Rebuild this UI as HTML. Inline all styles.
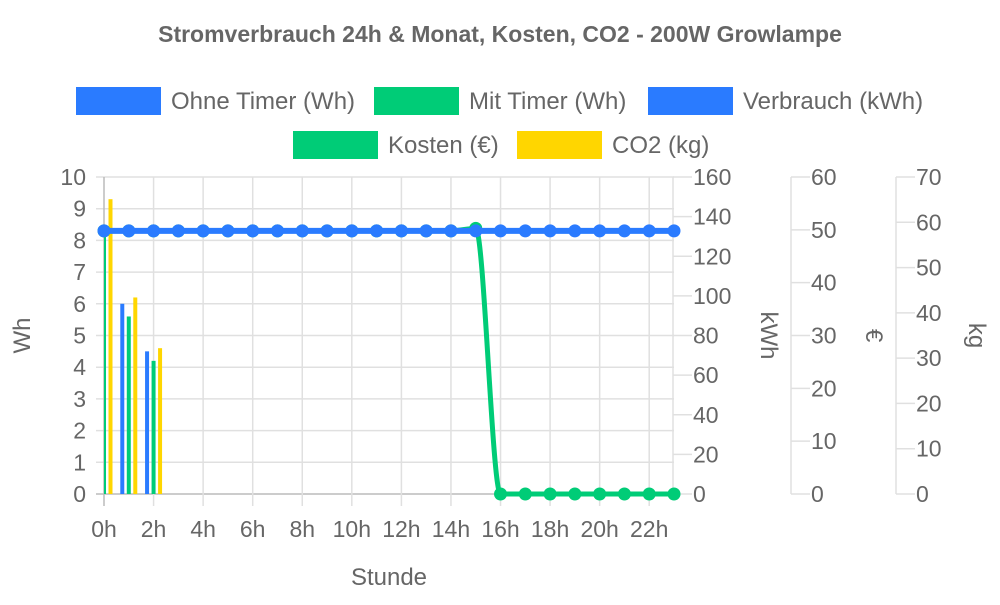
<!DOCTYPE html>
<html><head><meta charset="utf-8"><style>
body{margin:0;background:#fff;font-family:"Liberation Sans",sans-serif}
svg text{font-family:"Liberation Sans",sans-serif;fill:#666}
</style></head><body>
<svg id="c" width="1000" height="600" viewBox="0 0 1000 600"></svg>
<script>
const hours=["0h","1h","2h","3h","4h","5h","6h","7h","8h","9h","10h","11h","12h","13h","14h","15h","16h","17h","18h","19h","20h","21h","22h","23h"];
const ohneTimer=[8.3,8.3,8.3,8.3,8.3,8.3,8.3,8.3,8.3,8.3,8.3,8.3,8.3,8.3,8.3,8.3,8.3,8.3,8.3,8.3,8.3,8.3,8.3,8.3];
const mitTimer=[8.3,8.3,8.3,8.3,8.3,8.3,8.3,8.3,8.3,8.3,8.3,8.3,8.3,8.3,8.3,8.38,0,0,0,0,0,0,0,0];
const barBlue=[8.3,6.0,4.5];
const barGreen=[8.3,5.6,4.2];
const barYellow=[9.3,6.2,4.6];
const whTicks=[0,1,2,3,4,5,6,7,8,9,10];
const kwhTicks=[0,20,40,60,80,100,120,140,160];
const euroTicks=[0,10,20,30,40,50,60];
const kgTicks=[0,10,20,30,40,50,60,70];

const svg=document.getElementById('c');const NS="http://www.w3.org/2000/svg";
function el(t,a,p){const e=document.createElementNS(NS,t);for(const k in a)e.setAttribute(k,a[k]);(p||svg).appendChild(e);return e;}
const X0=104,X1=674,Y0=494,Y1=177;
const xs=i=>X0+i*(X1-X0)/(hours.length-1);
const yAxis=(v,max)=>Y0-v/max*(Y0-Y1);
const yWh=v=>yAxis(v,10);
const BLUE="#2a7bff",GREEN="#00cc77",YEL="#ffd600",GRID="#e0e0e0";
const TF=23;

let t=el('text',{x:500,y:42,'text-anchor':'middle','font-size':23,'font-weight':'bold'});

t.textContent="Stromverbrauch 24h & Monat, Kosten, CO2 - 200W Growlampe";

const legend=[["Ohne Timer (Wh)",BLUE,76,87],["Mit Timer (Wh)",GREEN,374,87],["Verbrauch (kWh)",BLUE,648,87],["Kosten (€)",GREEN,293,131],["CO2 (kg)",YEL,517,131]];
legend.forEach(l=>{const g=el('g',{});

el('rect',{x:l[2],y:l[3],width:85,height:28,fill:l[1]},g);
const tx=el('text',{x:l[2]+95,y:l[3]+22,'font-size':24},g);tx.textContent=l[0];});

whTicks.forEach(v=>{const y=yWh(v);
el('line',{x1:96,x2:X1,y1:y,y2:y,stroke:v===0?'#bbb':GRID,'stroke-width':1.5});
const tx=el('text',{x:86,y:y+8,'text-anchor':'end','font-size':TF});tx.textContent=v;
});
hours.forEach((h,i)=>{if(i%2)return;const x=xs(i);
el('line',{x1:x,x2:x,y1:Y1,y2:Y0+12,stroke:i===0?'#bbb':GRID,'stroke-width':1.5});
const tx=el('text',{x:x,y:537,'text-anchor':'middle','font-size':TF});tx.textContent=h;
});
function rightAxis(ticks,ax,name,titleX,title){const max=ticks[ticks.length-1];
el('line',{x1:ax,x2:ax,y1:Y1,y2:Y0,stroke:GRID,'stroke-width':1.5});
ticks.forEach(v=>{const y=yAxis(v,max);el('line',{x1:ax,x2:ax+19,y1:y,y2:y,stroke:GRID,'stroke-width':1.5});
const tx=el('text',{x:ax+20,y:y+8,'font-size':TF});tx.textContent=v;
});
const tt=el('text',{x:titleX,y:(Y0+Y1)/2,'text-anchor':'middle','font-size':24,transform:`rotate(90 ${titleX} ${(Y0+Y1)/2})`});
tt.textContent=title;}
rightAxis(kwhTicks,673,'kwh',761,'kWh');
rightAxis(euroTicks,791,'euro',866,'€');
rightAxis(kgTicks,896,'kg',969,'kg');
let lt=el('text',{x:30,y:(Y0+Y1)/2,'text-anchor':'middle','font-size':24,transform:`rotate(-90 30 ${(Y0+Y1)/2})`});lt.textContent="Wh";

let xt=el('text',{x:389,y:585,'text-anchor':'middle','font-size':24});xt.textContent="Stunde";


const cp=el('clipPath',{id:'cp'});
el('rect',{x:X0,y:0,width:X1-X0+20,height:600},cp);
const bg=el('g',{'clip-path':'url(#cp)'});
[[barBlue,BLUE,-6.5],[barGreen,GREEN,0],[barYellow,YEL,6.5]].forEach(s=>{s[0].forEach((v,i)=>{
const r=el('rect',{x:xs(i)+s[2]-2,y:yWh(v),width:4,height:Y0-yWh(v),fill:s[1]},bg);
});});

function line(vals,color,name,w){let d="";vals.forEach((v,i)=>{const x=xs(i),y=yWh(v);
if(i===0)d="M"+x+" "+y;else{const px=xs(i-1),py=yWh(vals[i-1]),dx=(x-px)/3;d+=` C${px+dx} ${py} ${x-dx} ${y} ${x} ${y}`;}});
const p=el('path',{d:d,fill:'none',stroke:color,'stroke-width':w,'stroke-linejoin':'round'});

vals.forEach((v,i)=>{const c=el('circle',{cx:xs(i),cy:yWh(v),r:6.5,fill:color});
});}
line(mitTimer,GREEN,'mit-timer',5);
line(ohneTimer,BLUE,'ohne-timer',6);
</script>
</body></html>
